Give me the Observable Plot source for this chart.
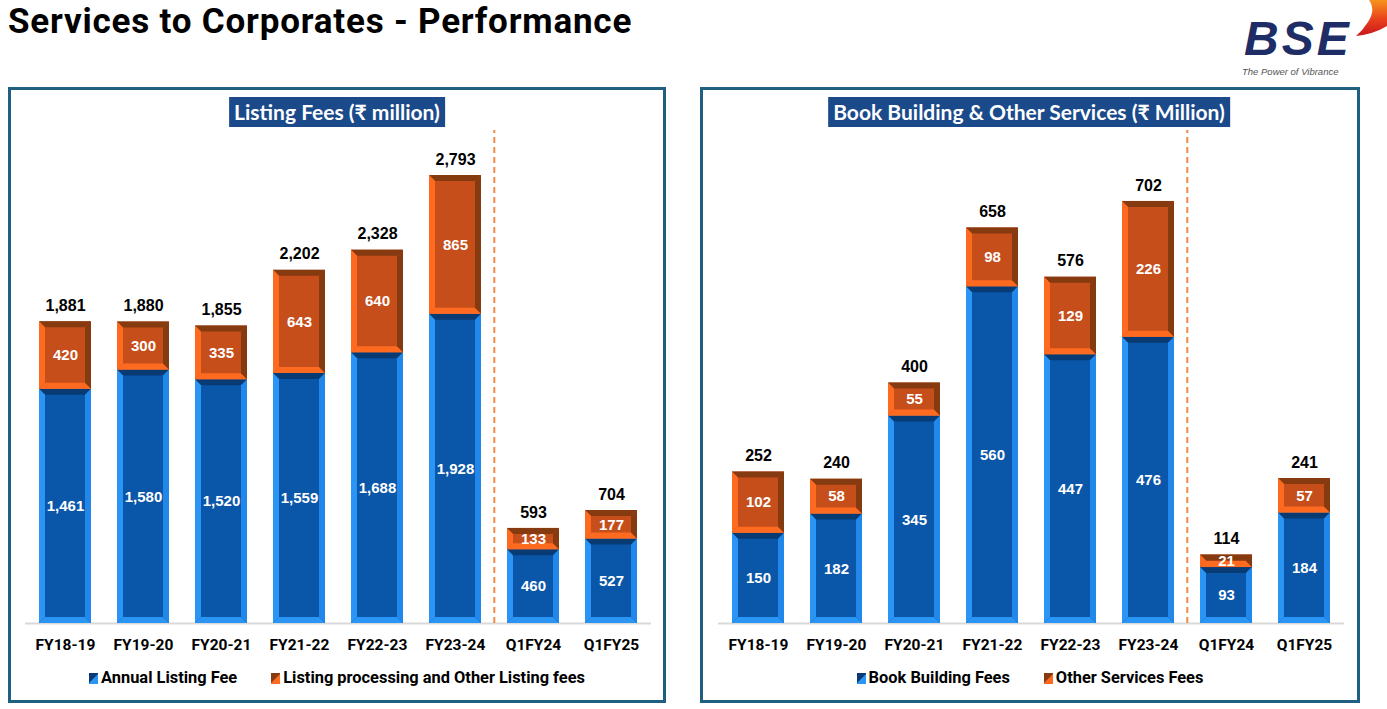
<!DOCTYPE html>
<html><head><meta charset="utf-8">
<script src="https://cdn.jsdelivr.net/npm/d3@7"></script>
<script src="https://cdn.jsdelivr.net/npm/@observablehq/plot@0.6"></script>
<style>
body{margin:0;background:#fff;}
#page{position:relative;width:1387px;height:709px;overflow:hidden;background:#fff;font-family:Roboto,"Liberation Sans",Arial,sans-serif;}
.h1{position:absolute;left:8px;top:2px;font-weight:700;font-size:35px;line-height:40px;letter-spacing:0.8px;color:#000;white-space:nowrap;}
.panel{position:absolute;top:87px;height:616px;border:3px solid #1f5f80;box-sizing:border-box;}
.ttl{position:absolute;top:97px;height:30px;background:#1b4a8b;color:#fff;font-family:Lato,"Noto Sans",sans-serif;font-weight:700;font-size:21px;line-height:30px;padding:0 5px;white-space:nowrap;transform:translateX(-50%);}
.chart{position:absolute;top:130px;}
.legend{position:absolute;top:668px;height:20px;display:flex;justify-content:center;gap:34px;font-family:Roboto,sans-serif;font-weight:700;font-size:16.4px;color:#000;line-height:20px;}
.legend span.item{display:flex;align-items:center;gap:3px;white-space:nowrap;}
.legend i{display:inline-block;width:9px;height:11px;}
.bse{position:absolute;left:1244px;top:15px;font-family:'Liberation Sans',Arial,sans-serif;font-weight:700;font-style:italic;font-size:48px;line-height:48px;color:#1f2d66;letter-spacing:3px;}
.tag{position:absolute;left:1242px;top:65.5px;font-family:'Liberation Sans',Arial,sans-serif;font-style:italic;font-size:9.5px;line-height:11px;color:#555;}
</style></head>
<body><div id="page">
<div class="h1">Services to Corporates - Performance</div>
<div class="bse">BSE</div>
<div class="tag">The Power of Vibrance</div>
<svg style="position:absolute;left:1350px;top:0" width="37" height="40">
  <defs><linearGradient id="sw" x1="0" y1="0" x2="0" y2="1"><stop offset="0" stop-color="#f7931e"/><stop offset="0.55" stop-color="#e8401c"/><stop offset="1" stop-color="#c8161d"/></linearGradient></defs>
  <path d="M37,0 L19,0 Q26,10 18,22 Q13,30 6,36 Q24,34 37,26 Z" fill="url(#sw)"/>
</svg>
<div class="panel" style="left:8px;width:658px;"></div>
<div class="panel" style="left:700px;width:660px;"></div>
<div class="ttl" style="left:337px;">Listing Fees (₹ million)</div>
<div class="ttl" style="left:1029px;">Book Building &amp; Other Services (₹ Million)</div>
<div id="c1" class="chart" style="left:8px;"></div>
<div id="c2" class="chart" style="left:700px;"></div>
<div class="legend" style="left:8px;width:658px;">
  <span class="item"><i style="background:linear-gradient(135deg,#083a73 0 45%,#2a95f5 55%)"></i>Annual Listing Fee</span>
  <span class="item"><i style="background:linear-gradient(135deg,#853a10 0 45%,#ff6a21 55%)"></i>Listing processing and Other Listing fees</span>
</div>
<div class="legend" style="left:700px;width:660px;">
  <span class="item"><i style="background:linear-gradient(135deg,#083a73 0 45%,#2a95f5 55%)"></i>Book Building Fees</span>
  <span class="item"><i style="background:linear-gradient(135deg,#853a10 0 45%,#ff6a21 55%)"></i>Other Services Fees</span>
</div>
</div>
<script>
const categories = ["FY18-19","FY19-20","FY20-21","FY21-22","FY22-23","FY23-24","Q1FY24","Q1FY25"];
const annualListingFee = [1461,1580,1520,1559,1688,1928,460,527];
const otherListingFees = [420,300,335,643,640,865,133,177];
const listingTotals = [1881,1880,1855,2202,2328,2793,593,704];
const bookBuildingFees = [150,182,345,560,447,476,93,184];
const otherServicesFees = [102,58,55,98,129,226,21,57];
const servicesTotals = [252,240,400,658,576,702,114,241];

const BLUE = {main:"#0a56a8", light:"#2a95f5", dark:"#083a73", right:"#2187ea"};
const ORANGE = {main:"#c64e1b", light:"#ff6a21", dark:"#853a10", right:"#853a10"};
const fmt = d3.format(",");

function bevel(svg) {
  const ns = "http://www.w3.org/2000/svg";
  svg.querySelectorAll('g[aria-label="bar"]').forEach(g => {
    const fill = g.getAttribute("fill");
    const pal = fill === BLUE.main ? BLUE : ORANGE;
    g.querySelectorAll("rect").forEach(r => {
      const x = +r.getAttribute("x"), y = +r.getAttribute("y");
      const w = +r.getAttribute("width"), h = +r.getAttribute("height");
      const b = Math.min(6, h / 2, w / 2);
      const polys = [
        [[x,y],[x+w,y],[x+w-b,y+b],[x+b,y+b], pal.dark],
        [[x,y+h],[x+w,y+h],[x+w-b,y+h-b],[x+b,y+h-b], pal.light],
        [[x,y],[x+b,y+b],[x+b,y+h-b],[x,y+h], pal.light],
        [[x+w,y],[x+w-b,y+b],[x+w-b,y+h-b],[x+w,y+h], pal.right]
      ];
      polys.forEach(p => {
        const el = document.createElementNS(ns, "polygon");
        el.setAttribute("points", p.slice(0,4).map(q => q.join(",")).join(" "));
        el.setAttribute("fill", p[4]);
        g.appendChild(el);
      });
    });
  });
}

function makeChart(el, bottom, top, totals, yMax, width, ml, mr) {
  const lower = categories.map((c,i) => ({cat:c, y1:0, y2:bottom[i], v:bottom[i]}));
  const upper = categories.map((c,i) => ({cat:c, y1:bottom[i], y2:bottom[i]+top[i], v:top[i]}));
  const tot = categories.map((c,i) => ({cat:c, v:totals[i]}));
  const pi = 0.337, po = 0.16;
  const step = (width - ml - mr) / (categories.length - pi + 2*po);
  const svg = Plot.plot({
    width, height:530, marginTop:0, marginBottom:37, marginLeft:ml, marginRight:mr,
    style:{background:"transparent", overflow:"visible", fontFamily:"'Liberation Sans',Arial,sans-serif"},
    x:{type:"band", domain:categories, paddingInner:pi, paddingOuter:po, axis:null},
    y:{domain:[0,yMax], axis:null},
    marks:[
      Plot.ruleY([0], {stroke:"#d9d9d9", strokeWidth:2}),
      Plot.ruleX([categories[6]], {x:d=>d, y1:0, y2:yMax, dx:-step/2, stroke:"#f08a4b", strokeWidth:2, strokeDasharray:"6,4"}),
      Plot.barY(lower, {x:"cat", y1:"y1", y2:"y2", fill:BLUE.main}),
      Plot.barY(upper, {x:"cat", y1:"y1", y2:"y2", fill:ORANGE.main}),
      Plot.text(lower, {x:"cat", y:d=>(d.y1+d.y2)/2, text:d=>fmt(d.v), fill:"#fff", fontWeight:"bold", fontSize:15}),
      Plot.text(upper, {x:"cat", y:d=>(d.y1+d.y2)/2, text:d=>fmt(d.v), fill:"#fff", fontWeight:"bold", fontSize:15}),
      Plot.text(tot, {x:"cat", y:"v", text:d=>fmt(d.v), dy:-16, fill:"#000", fontWeight:"bold", fontSize:16}),
      Plot.text(categories, {x:d=>d, y:0, dy:22, text:d=>d, fill:"#000", fontWeight:"bold", fontSize:15.5, fontFamily:"Roboto,sans-serif"})
    ]
  });
  bevel(svg);
  el.appendChild(svg);
}

makeChart(document.getElementById("c1"), annualListingFee, otherListingFees, listingTotals, 3074, 658, 17, 15);
makeChart(document.getElementById("c2"), bookBuildingFees, otherServicesFees, servicesTotals, 820, 660, 18, 16);
</script>
</body></html>
